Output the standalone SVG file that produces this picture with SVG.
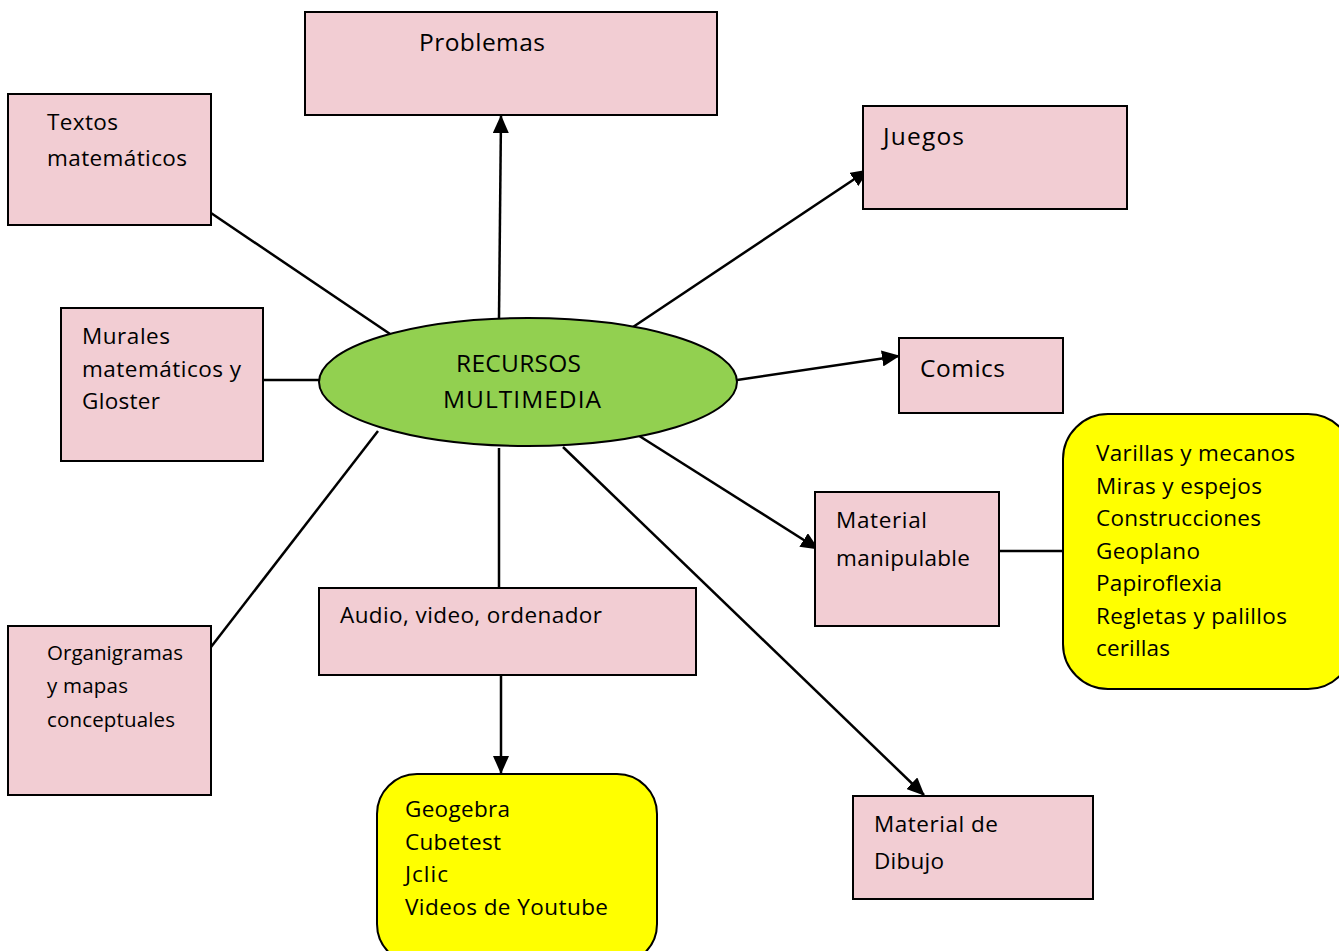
<svg xmlns="http://www.w3.org/2000/svg" width="1339" height="951" viewBox="0 0 1339 951">
<style>
.box{fill:#f2cdd3;stroke:#000;stroke-width:2}
.yel{fill:#ffff00;stroke:#000;stroke-width:2}
.t{font-family:"Open Sans",Lato,"Liberation Sans",sans-serif;font-size:22.5px;fill:#000}
.s{font-size:20.5px}
.b{font-size:24.5px}
.c{stroke:#000;stroke-width:2.5;fill:none}
</style>
<defs>
<marker id="ah" markerUnits="userSpaceOnUse" markerWidth="18" markerHeight="16" refX="17" refY="8" orient="auto">
<path d="M0,0 L18,8 L0,16 Z" fill="#000"/>
</marker>
</defs>
<rect width="1339" height="951" fill="#fff"/>
<g id="connectors">
<line class="c" x1="499" y1="318" x2="501" y2="116" marker-end="url(#ah)"/>
<line class="c" x1="211" y1="213" x2="396" y2="338"/>
<line class="c" x1="633" y1="327" x2="868" y2="170" marker-end="url(#ah)"/>
<line class="c" x1="263" y1="380" x2="320" y2="380"/>
<line class="c" x1="737" y1="380" x2="899" y2="356" marker-end="url(#ah)"/>
<line class="c" x1="633" y1="432" x2="818" y2="549" marker-end="url(#ah)"/>
<line class="c" x1="563" y1="447" x2="924" y2="795" marker-end="url(#ah)"/>
<line class="c" x1="499" y1="448" x2="499" y2="588"/>
<line class="c" x1="501" y1="676" x2="501" y2="773" marker-end="url(#ah)"/>
<line class="c" x1="378" y1="431" x2="211" y2="647"/>
<line class="c" x1="999" y1="551" x2="1063" y2="551"/>
</g>
<g id="problemas"><rect class="box" x="305" y="12" width="412" height="103"/><text class="t b" x="419" y="51" textLength="126" lengthAdjust="spacing">Problemas</text></g>
<g id="textos"><rect class="box" x="8" y="94" width="203" height="131"/><text class="t" x="47" y="130" textLength="71" lengthAdjust="spacing">Textos</text><text class="t" x="47" y="166" textLength="140" lengthAdjust="spacing">matemáticos</text></g>
<g id="juegos"><rect class="box" x="863" y="106" width="264" height="103"/><text class="t b" x="883" y="145" textLength="81" lengthAdjust="spacing">Juegos</text></g>
<g id="murales"><rect class="box" x="61" y="308" width="202" height="153"/><text class="t" x="82" y="344" textLength="88" lengthAdjust="spacing">Murales</text><text class="t" x="82" y="377" textLength="159" lengthAdjust="spacing">matemáticos y</text><text class="t" x="82" y="409" textLength="78" lengthAdjust="spacing">Gloster</text></g>
<g id="recursos"><ellipse cx="528" cy="382" rx="209" ry="64" fill="#92d050" stroke="#000" stroke-width="2"/><text class="t b" x="456" y="372" textLength="125" lengthAdjust="spacing">RECURSOS</text><text class="t b" x="443" y="408" textLength="158" lengthAdjust="spacing">MULTIMEDIA</text></g>
<g id="comics"><rect class="box" x="899" y="338" width="164" height="75"/><text class="t b" x="920" y="377" textLength="85" lengthAdjust="spacing">Comics</text></g>
<g id="manipulable-list"><rect class="yel" x="1063" y="414" width="290" height="275" rx="45"/>
<text class="t" x="1096" y="461" textLength="199" lengthAdjust="spacing">Varillas y mecanos</text><text class="t" x="1096" y="494" textLength="166" lengthAdjust="spacing">Miras y espejos</text><text class="t" x="1096" y="526" textLength="165" lengthAdjust="spacing">Construcciones</text><text class="t" x="1096" y="559" textLength="104" lengthAdjust="spacing">Geoplano</text><text class="t" x="1096" y="591" textLength="126" lengthAdjust="spacing">Papiroflexia</text><text class="t" x="1096" y="624" textLength="191" lengthAdjust="spacing">Regletas y palillos</text><text class="t" x="1096" y="656" textLength="74" lengthAdjust="spacing">cerillas</text></g>
<g id="manipulable"><rect class="box" x="815" y="492" width="184" height="134"/><text class="t" x="836" y="528" textLength="91" lengthAdjust="spacing">Material</text><text class="t" x="836" y="566" textLength="134" lengthAdjust="spacing">manipulable</text></g>
<g id="audio"><rect class="box" x="319" y="588" width="377" height="87"/><text class="t" x="340" y="623" textLength="262" lengthAdjust="spacing">Audio, video, ordenador</text></g>
<g id="organigramas"><rect class="box" x="8" y="626" width="203" height="169"/><text class="t s" x="47" y="660" textLength="136" lengthAdjust="spacing">Organigramas</text><text class="t s" x="47" y="693" textLength="81" lengthAdjust="spacing">y mapas</text><text class="t s" x="47" y="727" textLength="128" lengthAdjust="spacing">conceptuales</text></g>
<g id="software"><rect class="yel" x="377" y="774" width="280" height="190" rx="40"/>
<text class="t" x="405" y="817" textLength="105" lengthAdjust="spacing">Geogebra</text><text class="t" x="405" y="850" textLength="96" lengthAdjust="spacing">Cubetest</text><text class="t" x="405" y="882" textLength="43" lengthAdjust="spacing">Jclic</text><text class="t" x="405" y="915" textLength="203" lengthAdjust="spacing">Videos de Youtube</text></g>
<g id="dibujo"><rect class="box" x="853" y="796" width="240" height="103"/><text class="t" x="874" y="832" textLength="124" lengthAdjust="spacing">Material de</text><text class="t" x="874" y="869" textLength="70" lengthAdjust="spacing">Dibujo</text></g>
</svg>
